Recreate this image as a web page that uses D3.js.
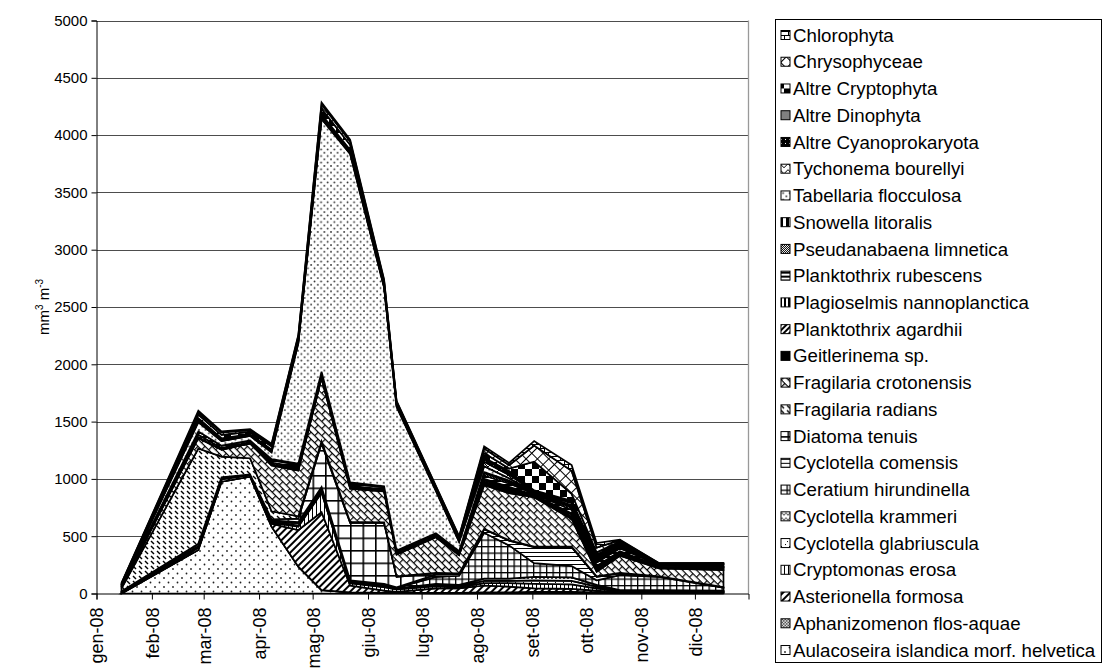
<!DOCTYPE html>
<html>
<head>
<meta charset="utf-8">
<script src="https://cdn.jsdelivr.net/npm/d3@7"></script>
<style>
  body { margin: 0; background: #fff; }
  svg { display: block; font-family: "Liberation Sans", Arial, sans-serif; }
</style>
</head>
<body>
<svg id="chart" width="1105" height="668"></svg>
<script>
// Sampling dates (2008)
const sampleDates = ["2008-01-15","2008-02-27","2008-03-11","2008-03-27","2008-04-08","2008-04-23",
  "2008-05-06","2008-05-22","2008-06-10","2008-06-17","2008-07-09","2008-07-22","2008-08-05",
  "2008-08-19","2008-09-02","2008-09-23","2008-10-07","2008-10-20","2008-11-11","2008-12-17"];

const monthLabels = ["gen-08","feb-08","mar-08","apr-08","mag-08","giu-08",
  "lug-08","ago-08","set-08","ott-08","nov-08","dic-08"];

const yTicks = [0, 500, 1000, 1500, 2000, 2500, 3000, 3500, 4000, 4500, 5000];

// Biovolume (mm3 m-3), one array per taxon, stacked from the bottom up
const aulacoseiraIslandica  = [0,380,975,1020,583,234,30,10,5,5,0,0,0,0,0,0,0,0,0,0];
const aphanizomenon         = [0,0,0,0,0,0,0,0,0,0,5,5,10,10,15,15,10,5,5,5];
const asterionellaFormosa   = [5,20,20,15,25,320,680,60,20,10,40,40,60,50,30,25,15,5,5,5];
const cryptomonasErosa      = [10,15,10,5,10,30,170,20,30,20,20,10,20,30,40,40,20,10,10,5];
const cyclotellaGlabriuscula= [0,0,0,0,0,10,10,5,5,5,10,10,20,20,30,30,15,5,5,5];
const cyclotellaKrammeri    = [5,20,10,0,10,20,20,5,10,5,10,10,20,20,30,30,15,5,5,5];
const ceratiumHirundinella  = [0,0,0,0,0,0,0,5,5,5,60,80,400,290,120,100,40,130,115,25];
const cyclotellaComensis    = [0,0,0,0,10,10,20,10,10,5,20,15,30,40,140,165,30,15,5,5];
const diatomaTenuis         = [0,0,0,0,10,30,380,500,530,90,10,5,5,5,5,5,5,5,0,0];
const fragilariaRadians     = [25,830,180,140,70,20,20,10,5,5,5,0,0,0,0,0,0,0,0,0];
const fragilariaCrotonensis = [10,90,60,130,400,400,550,290,270,190,310,160,380,410,430,240,40,150,70,150];
const geitlerinema          = [0,10,0,0,5,5,5,5,5,5,5,5,30,30,10,20,20,15,10,15];
const planktothrixAgardhii  = [0,0,0,0,5,10,10,10,5,5,5,5,15,15,5,20,15,10,5,10];
const plagioselmis          = [5,20,15,10,15,15,10,10,10,5,5,5,10,10,5,10,15,15,5,5];
const planktothrixRubescens = [5,30,20,15,20,20,20,20,15,10,10,10,30,30,10,30,30,25,10,20];
const pseudanabaena         = [0,0,0,0,5,5,5,5,5,5,5,5,20,15,5,20,15,10,5,5];
const snowellaLitoralis     = [0,0,0,0,5,5,5,5,5,5,5,5,10,10,5,10,10,10,0,0];
const tabellariaFlocculosa  = [10,80,40,40,60,1050,2205,2865,1735,1255,370,80,50,20,5,10,10,5,0,0];
const tychonemaBourellyi    = [0,15,15,10,15,15,20,15,10,10,10,10,40,30,5,20,15,10,0,0];
const altreCyanoprokaryota  = [0,10,5,0,5,5,10,10,5,5,5,5,20,20,5,10,10,5,0,0];
const altreDinophyta        = [0,10,5,5,5,5,10,10,5,5,5,5,15,15,5,10,10,5,0,0];
const altreCryptophyta      = [10,30,30,20,25,25,50,45,25,15,10,15,40,20,250,60,20,15,5,5];
const chrysophyceae         = [5,20,20,15,15,15,40,30,15,10,10,10,40,30,140,200,40,10,5,0];
const chlorophyta           = [0,15,10,10,10,10,15,15,10,5,5,5,20,20,40,50,40,5,0,0];

const seriesList = [
  { name: "Aulacoseira islandica morf. helvetica", values: aulacoseiraIslandica, pat: "dots5" },
  { name: "Aphanizomenon flos-aquae", values: aphanizomenon, pat: "fineChecker" },
  { name: "Asterionella formosa", values: asterionellaFormosa, pat: "wideUp" },
  { name: "Cryptomonas erosa", values: cryptomonasErosa, pat: "lightVert" },
  { name: "Cyclotella glabriuscula", values: cyclotellaGlabriuscula, pat: "confetti" },
  { name: "Cyclotella krammeri", values: cyclotellaKrammeri, pat: "wave" },
  { name: "Ceratium hirundinella", values: ceratiumHirundinella, pat: "smallGrid" },
  { name: "Cyclotella comensis", values: cyclotellaComensis, pat: "lightHoriz" },
  { name: "Diatoma tenuis", values: diatomaTenuis, pat: "largeGrid" },
  { name: "Fragilaria radians", values: fragilariaRadians, pat: "dashDown" },
  { name: "Fragilaria crotonensis", values: fragilariaCrotonensis, pat: "diagBrick" },
  { name: "Geitlerinema sp.", values: geitlerinema, pat: "solidBlack" },
  { name: "Planktothrix agardhii", values: planktothrixAgardhii, pat: "darkUp" },
  { name: "Plagioselmis nannoplanctica", values: plagioselmis, pat: "wideVert" },
  { name: "Planktothrix rubescens", values: planktothrixRubescens, pat: "darkHoriz" },
  { name: "Pseudanabaena limnetica", values: pseudanabaena, pat: "grey50" },
  { name: "Snowella litoralis", values: snowellaLitoralis, pat: "heavyVert" },
  { name: "Tabellaria flocculosa", values: tabellariaFlocculosa, pat: "dots10" },
  { name: "Tychonema bourellyi", values: tychonemaBourellyi, pat: "zigzag" },
  { name: "Altre Cyanoprokaryota", values: altreCyanoprokaryota, pat: "blackDots" },
  { name: "Altre Dinophyta", values: altreDinophyta, pat: "solidGrey" },
  { name: "Altre Cryptophyta", values: altreCryptophyta, pat: "bigChecker" },
  { name: "Chrysophyceae", values: chrysophyceae, pat: "diagCross" },
  { name: "Chlorophyta", values: chlorophyta, pat: "horizBrick" }
];

const svg = d3.select("#chart");
svg.append("rect").attr("width", 1105).attr("height", 668).attr("fill", "#fff");
const defs = svg.append("defs");

// ---- fill patterns (black on white) ----
function pattern(id, w, h, draw, transform) {
  const p = defs.append("pattern").attr("id", id)
    .attr("patternUnits", "userSpaceOnUse").attr("width", w).attr("height", h);
  if (transform) p.attr("patternTransform", transform);
  p.append("rect").attr("width", w).attr("height", h).attr("fill", "#fff");
  draw(p);
}
const line = (p, x1, y1, x2, y2, sw, col) => p.append("line")
  .attr("x1", x1).attr("y1", y1).attr("x2", x2).attr("y2", y2)
  .attr("stroke", col || "#000").attr("stroke-width", sw);
const box = (p, x, y, w, h, col) => p.append("rect")
  .attr("x", x).attr("y", y).attr("width", w).attr("height", h).attr("fill", col || "#000");

pattern("dots5", 9, 9, p => {
  p.append("circle").attr("cx", 2).attr("cy", 2).attr("r", 0.9).attr("fill", "#222");
  p.append("circle").attr("cx", 6.5).attr("cy", 6.5).attr("r", 0.9).attr("fill", "#222");
});
pattern("dots10", 6.6, 6.6, p => {
  p.append("circle").attr("cx", 1).attr("cy", 1).attr("r", 0.9).attr("fill", "#2a2a2a");
  p.append("circle").attr("cx", 4.3).attr("cy", 4.3).attr("r", 0.9).attr("fill", "#2a2a2a");
});
pattern("fineChecker", 3, 3, p => { box(p, 0, 0, 1.5, 1.5, "#333"); box(p, 1.5, 1.5, 1.5, 1.5, "#333"); });
pattern("grey50", 2, 2, p => { box(p, 0, 0, 1, 1); box(p, 1, 1, 1, 1); });
pattern("wideUp", 5, 5, p => box(p, 0, 0, 2, 5), "rotate(45)");
pattern("darkUp", 4, 4, p => box(p, 0, 0, 2, 4), "rotate(45)");
pattern("lightVert", 4, 4, p => box(p, 0, 0, 1, 4));
pattern("wideVert", 4, 4, p => box(p, 0, 0, 2, 4));
pattern("heavyVert", 6, 6, p => box(p, 0, 0, 3, 6));
pattern("lightHoriz", 4, 4, p => box(p, 0, 0, 4, 1));
pattern("darkHoriz", 4, 4, p => box(p, 0, 0, 4, 2));
pattern("confetti", 8, 8, p => { box(p, 1, 1, 1, 1); box(p, 5, 3, 1, 1); box(p, 3, 6, 1, 1); });
pattern("wave", 8, 5, p => p.append("path").attr("d", "M0,4 L2,1.5 L4,4 L6,1.5 L8,4")
  .attr("fill", "none").attr("stroke", "#000").attr("stroke-width", 0.8));
pattern("zigzag", 8, 6, p => p.append("path").attr("d", "M0,5 L4,1 L8,5")
  .attr("fill", "none").attr("stroke", "#000").attr("stroke-width", 1));
pattern("smallGrid", 6.5, 6.5, p => { box(p, 0, 0, 6.5, 1.3); box(p, 0, 0, 1.3, 6.5); });
pattern("largeGrid", 12.5, 12.5, p => { box(p, 0, 0, 12.5, 1.6); box(p, 0, 0, 1.6, 12.5); });
pattern("dashDown", 6, 5, p => line(p, 1, 1, 4, 4, 1.4));
pattern("diagBrick", 10, 10, p => {
  box(p, 0, 0, 10, 1.2); box(p, 0, 5, 10, 1.2);
  box(p, 0, 0, 1.2, 5); box(p, 5, 5, 1.2, 5);
}, "rotate(45)");
pattern("diagCross", 8, 8, p => { box(p, 0, 0, 8, 1); box(p, 0, 0, 1, 8); }, "rotate(45)");
pattern("horizBrick", 8, 8, p => {
  box(p, 0, 0, 8, 1); box(p, 0, 4, 8, 1); box(p, 0, 0, 1, 4); box(p, 4, 4, 1, 4);
});
pattern("blackDots", 4, 4, p => { box(p, 0, 0, 4, 4); box(p, 1, 1, 1, 1, "#fff"); });
pattern("bigChecker", 14, 14, p => { box(p, 0, 0, 7, 7); box(p, 7, 7, 7, 7); });
pattern("solidBlack", 4, 4, p => box(p, 0, 0, 4, 4));
pattern("solidGrey", 4, 4, p => box(p, 0, 0, 4, 4, "#808080"));

// ---- scales ----
const plot = { left: 96.5, right: 748.5, top: 20.5, bottom: 593.5 };
const parseDate = d3.timeParse("%Y-%m-%d");
const x = d3.scaleTime()
  .domain([new Date(2008, 0, 1), new Date(2008, 11, 31)])
  .range([plot.left, plot.right]);
const y = d3.scaleLinear().domain([0, 5000]).range([plot.bottom, plot.top]);

// gridlines
svg.append("g").selectAll("line").data(yTicks.filter(v => v > 0)).join("line")
  .attr("x1", plot.left).attr("x2", plot.right)
  .attr("y1", d => Math.round(y(d)) + 0.5).attr("y2", d => Math.round(y(d)) + 0.5)
  .attr("stroke", "#4d4d4d").attr("stroke-width", 1);
svg.append("line").attr("x1", plot.right).attr("x2", plot.right)
  .attr("y1", plot.top).attr("y2", plot.bottom).attr("stroke", "#999").attr("stroke-width", 1.3);

// ---- stacked areas ----
const table = sampleDates.map((d, i) => {
  const row = { date: parseDate(d) };
  seriesList.forEach(s => { row[s.name] = s.values[i]; });
  return row;
});
const layers = d3.stack().keys(seriesList.map(s => s.name))(table);
const area = d3.area()
  .x(d => x(d.data.date))
  .y0(d => y(d[0]))
  .y1(d => y(d[1]));

svg.append("g").selectAll("path").data(layers).join("path")
  .attr("d", d => area(d) + "Z")
  .attr("fill", (d, i) => `url(#${seriesList[i].pat})`)
  .attr("stroke", "#000").attr("stroke-width", 1.7)
  .attr("stroke-linejoin", "miter");

// ---- axes ----
const yAxis = d3.axisLeft(y).tickValues(yTicks).tickSize(5).tickPadding(4).tickFormat(d3.format("d"));
const gy = svg.append("g").attr("transform", `translate(${plot.left},0)`).call(yAxis);
gy.select(".domain").attr("stroke", "#000");
gy.selectAll(".tick line").attr("stroke", "#000");
gy.selectAll("text").attr("font-size", 15).attr("fill", "#000")
  .attr("font-family", "Liberation Sans, Arial, sans-serif");

const monthStarts = d3.range(12).map(m => new Date(2008, m, 1));
const xAxis = d3.axisBottom(x).tickValues(monthStarts).tickSize(6)
  .tickFormat((d, i) => monthLabels[i]);
const gx = svg.append("g").attr("transform", `translate(0,${plot.bottom})`).call(xAxis);
gx.select(".domain").attr("stroke", "#000");
gx.selectAll(".tick line").attr("stroke", "#000");
gx.selectAll("text")
  .attr("font-size", 18).attr("fill", "#000")
  .attr("font-family", "Liberation Sans, Arial, sans-serif")
  .attr("text-anchor", "end")
  .attr("transform", "rotate(-90)")
  .attr("x", -14).attr("y", 0).attr("dy", "0.36em");

// y-axis title
const yTitle = svg.append("text")
  .attr("transform", "translate(49,307) rotate(-90)")
  .attr("text-anchor", "middle").attr("font-size", 15).attr("fill", "#000");
yTitle.append("tspan").text("mm");
yTitle.append("tspan").attr("font-size", 10).attr("dy", -6).text("3");
yTitle.append("tspan").attr("dy", 6).text(" m");
yTitle.append("tspan").attr("font-size", 10).attr("dy", -6).text("-3");

// ---- legend ----
const legend = svg.append("g");
legend.append("rect").attr("x", 775.5).attr("y", 19.5).attr("width", 326).attr("height", 643)
  .attr("fill", "#fff").attr("stroke", "#000").attr("stroke-width", 1);
const legendItems = seriesList.slice().reverse();
const rowH = 26.74;
const li = legend.selectAll("g.item").data(legendItems).join("g")
  .attr("transform", (d, i) => `translate(0,${35 + i * rowH})`);
li.append("rect").attr("x", 781).attr("y", -4.5).attr("width", 9).attr("height", 9)
  .attr("fill", d => `url(#${d.pat})`).attr("stroke", "#000").attr("stroke-width", 1);
li.append("text").attr("x", 793).attr("y", 6.6).attr("font-size", 18.7).attr("fill", "#000")
  .text(d => d.name);
</script>
</body>
</html>
